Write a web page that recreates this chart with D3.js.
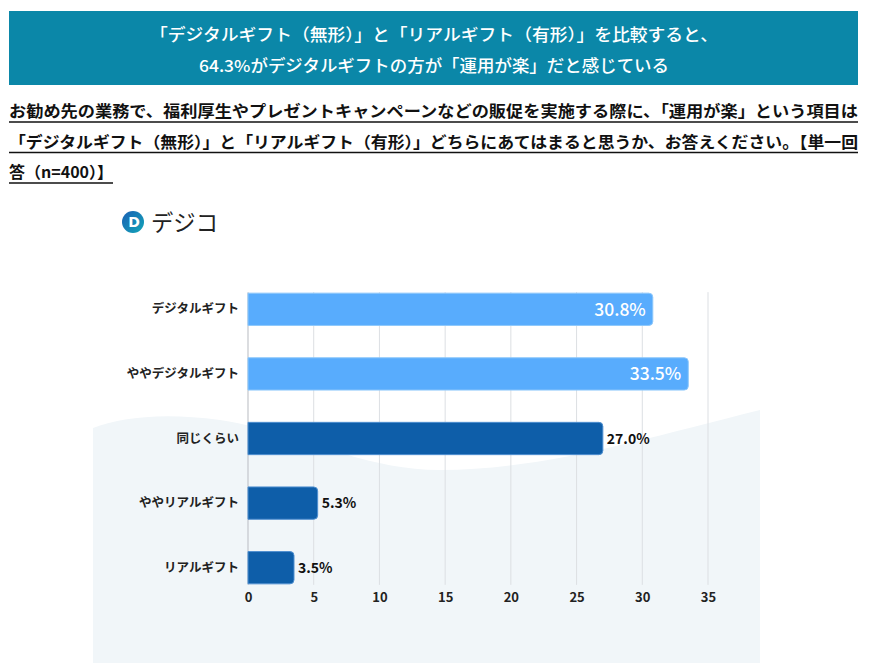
<!DOCTYPE html>
<html>
<head>
<meta charset="utf-8">
<script src="https://cdn.jsdelivr.net/npm/d3@7"></script>
<style>
  body { margin: 0; background: #fff; }
  svg { display: block; font-family: "Noto Sans CJK JP", "Noto Sans", sans-serif; }
</style>
</head>
<body>
<svg id="chart" width="875" height="670"></svg>
<script>
// chart data
var categories = ["デジタルギフト", "ややデジタルギフト", "同じくらい", "ややリアルギフト", "リアルギフト"];
var values = [30.8, 33.5, 27.0, 5.3, 3.5];
var sides = ["digital", "digital", "same", "real", "real"];
var xTicks = [0, 5, 10, 15, 20, 25, 30, 35];

var titleLines = ["「デジタルギフト（無形）」と「リアルギフト（有形）」を比較すると、",
                  "64.3%がデジタルギフトの方が「運用が楽」だと感じている"];
var questionLines = ["お勧め先の業務で、福利厚生やプレゼントキャンペーンなどの販促を実施する際に、「運用が楽」という項目は",
                     "「デジタルギフト（無形）」と「リアルギフト（有形）」どちらにあてはまると思うか、お答えください。【単一回",
                     "答（n=400）】"];

var svg = d3.select("#chart");

// header band
svg.append("rect").attr("x", 9).attr("y", 11).attr("width", 849).attr("height", 74).attr("fill", "#0b87a8");
var titleWidths = [568, 470];
svg.selectAll(".title").data(titleLines).enter().append("text")
    .attr("class", "title")
    .attr("x", 434)
    .attr("y", function(d, i) { return 41 + i * 31; })
    .attr("text-anchor", "middle")
    .attr("fill", "#fff")
    .attr("font-size", 16.5)
    .attr("font-weight", 500)
    .attr("textLength", function(d, i) { return titleWidths[i]; })
    .attr("lengthAdjust", "spacingAndGlyphs")
    .text(function(d) { return d; });

// question text, underlined
var qWidths = [849, 849, null];
questionLines.forEach(function(t, i) {
    var y = 117 + i * 30.5;
    var txt = svg.append("text")
        .attr("x", 9).attr("y", y)
        .attr("font-size", 16).attr("font-weight", 700).attr("fill", "#111")
        .text(t);
    if (qWidths[i]) txt.attr("textLength", qWidths[i]).attr("lengthAdjust", "spacingAndGlyphs");
    var w = txt.node().getComputedTextLength();
    if (qWidths[i]) w = qWidths[i];
    svg.append("line").attr("x1", 9).attr("x2", 9 + w).attr("y1", y + 5).attr("y2", y + 5)
        .attr("stroke", "#111").attr("stroke-width", 1.5);
});

// logo
var grad = svg.append("defs").append("linearGradient").attr("id", "lg")
    .attr("x1", "0%").attr("y1", "0%").attr("x2", "100%").attr("y2", "100%");
grad.append("stop").attr("offset", "0%").attr("stop-color", "#1a5fb4");
grad.append("stop").attr("offset", "100%").attr("stop-color", "#12a6b8");
svg.append("circle").attr("cx", 133).attr("cy", 222).attr("r", 11).attr("fill", "url(#lg)");
svg.append("text").attr("x", 134).attr("y", 227).attr("text-anchor", "middle")
    .attr("font-size", 14).attr("font-weight", 700).attr("fill", "#fff").attr("font-family", "DejaVu Sans").text("D");
svg.append("text").attr("x", 151).attr("y", 231).attr("font-size", 23).attr("font-weight", 400)
    .attr("fill", "#222").attr("textLength", 67).attr("lengthAdjust", "spacingAndGlyphs").text("デジコ");

// wave background panel
svg.append("path")
    .attr("d", "M93,428 C120,418 160,412 220,420 C300,432 360,470 440,470 C540,470 640,440 760,410 L760,663 L93,663 Z")
    .attr("fill", "#f1f6f9");

// scales
var x = d3.scaleLinear().domain([0, 35]).range([248, 708]);
var y = d3.scaleBand().domain(categories).range([277, 600]).paddingInner(0.5).paddingOuter(0.25);
var color = { digital: "#58acfd", same: "#0e5ea9", real: "#0e5ea9" };
var edge = { digital: "#8ec8fb", same: "#4f8fd0", real: "#4f8fd0" };

var gridTop = y(categories[0]) - 1, gridBottom = y(categories[4]) + y.bandwidth() + 1;

// gridlines
svg.selectAll(".grid").data(xTicks.slice(1)).enter().append("line")
    .attr("class", "grid")
    .attr("x1", function(d) { return x(d); }).attr("x2", function(d) { return x(d); })
    .attr("y1", gridTop).attr("y2", gridBottom)
    .attr("stroke", "#dcdfe3").attr("stroke-width", 1);

// x axis
var xAxis = svg.append("g").attr("transform", "translate(0," + gridBottom + ")")
    .call(d3.axisBottom(x).tickValues(xTicks).tickSize(0).tickPadding(8));
xAxis.select(".domain").remove();
xAxis.selectAll("text").attr("font-size", 13).attr("font-weight", 700).attr("fill", "#222")
    .attr("font-family", "Noto Sans CJK JP");

// y axis
var yAxis = svg.append("g").attr("transform", "translate(" + x(0) + ",0)")
    .call(d3.axisLeft(y).tickSize(0).tickPadding(9));
yAxis.select(".domain").remove();
yAxis.selectAll("text").attr("font-size", 12.5).attr("font-weight", 700).attr("fill", "#222")
    .attr("font-family", "Noto Sans CJK JP");
svg.append("line").attr("x1", x(0)).attr("x2", x(0)).attr("y1", gridTop).attr("y2", gridBottom)
    .attr("stroke", "#c4c7cb").attr("stroke-width", 1.2);

// bars with rounded right end
function barPath(x0, x1, y0, h, r) {
    return "M" + x0 + "," + y0 + "H" + (x1 - r) + "Q" + x1 + "," + y0 + " " + x1 + "," + (y0 + r) +
        "V" + (y0 + h - r) + "Q" + x1 + "," + (y0 + h) + " " + (x1 - r) + "," + (y0 + h) + "H" + x0 + "Z";
}
svg.selectAll(".bar").data(values).enter().append("path")
    .attr("class", "bar")
    .attr("d", function(d, i) { return barPath(x(0), x(d), y(categories[i]), y.bandwidth(), 4); })
    .attr("fill", function(d, i) { return color[sides[i]]; })
    .attr("stroke", function(d, i) { return edge[sides[i]]; })
    .attr("stroke-width", 1);

// value labels
svg.selectAll(".val").data(values).enter().append("text")
    .attr("class", "val")
    .attr("x", function(d, i) { return sides[i] == "digital" ? x(d) - 7 : x(d) + 4; })
    .attr("y", function(d, i) { return y(categories[i]) + y.bandwidth() / 2; })
    .attr("dy", "0.36em")
    .attr("text-anchor", function(d, i) { return sides[i] == "digital" ? "end" : "start"; })
    .attr("font-size", function(d, i) { return sides[i] == "digital" ? 17.5 : 14; })
    .attr("font-weight", function(d, i) { return sides[i] == "digital" ? 500 : 700; })
    .attr("fill", function(d, i) { return sides[i] == "digital" ? "#fff" : "#111"; })
    .text(function(d) { return d.toFixed(1) + "%"; });
</script>
</body>
</html>
